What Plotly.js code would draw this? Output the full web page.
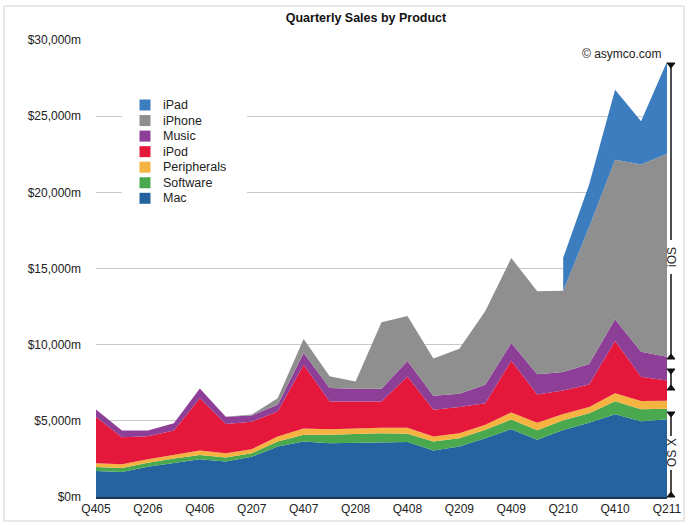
<!DOCTYPE html>
<html><head><meta charset="utf-8">
<script src="https://cdn.plot.ly/plotly-3.0.1.min.js"></script>
<style>html,body{margin:0;padding:0;background:#fff}#chart{width:688px;height:525px}</style>
</head><body><div id="chart"></div>
<script>
// ---- data ($m, calendar quarters) ----
const quarters = ['Q405','Q106','Q206','Q306','Q406','Q107','Q207','Q307','Q407','Q108','Q208','Q308','Q408','Q109','Q209','Q309','Q409','Q110','Q210','Q310','Q410','Q111','Q211'];
const tickLabels = ['Q405','Q206','Q406','Q207','Q407','Q208','Q408','Q209','Q409','Q210','Q410','Q211'];
const yTickValues = [0,5000,10000,15000,20000,25000,30000];
const yTickLabels = ['$0m','$5,000m','$10,000m','$15,000m','$20,000m','$25,000m','$30,000m'];

const mac         = [1700,1640,1990,2250,2480,2330,2640,3310,3640,3530,3570,3600,3617,3050,3310,3860,4454,3760,4399,4870,5428,4976,5104];
const software    = [270,270,260,280,280,270,230,330,440,550,570,580,539,590,550,550,627,620,646,630,863,792,687];
const peripherals = [250,240,230,260,294,270,270,330,420,370,380,360,382,330,330,330,469,486,396,400,518,531,527];
const ipod        = [3038,1780,1500,1570,3427,1930,1800,1640,4180,1820,1750,1730,3371,1750,1710,1420,3391,1861,1545,1484,3425,1600,1325];
const music       = [491,430,390,477,634,464,410,440,770,880,830,830,1011,920,880,1210,1164,1327,1214,1345,1431,1634,1571];
const iphone      = [0,0,0,0,0,0,60,440,920,770,490,4370,2960,2444,2954,4837,5578,5445,5334,9000,10468,12298,13311];
const ipad        = [null,null,null,null,null,null,null,null,null,null,null,null,null,null,null,null,null,null,2166,2792,4608,2836,6046];

const seriesNames  = ['Mac','Software','Peripherals','iPod','Music','iPhone','iPad'];
const seriesColors = ['#2563a0','#4aa84e','#f5b342','#e5173b','#8d3f97','#8f8f8f','#3b7dbf'];
const seriesData   = [mac,software,peripherals,ipod,music,iphone,ipad];

// ---- geometry helpers (pixels -> paper) ----
const L=96, R=667, T=40, B=497;
const px = x => (x-L)/(R-L);
const py = y => (B-y)/(B-T);

// ---- stacked areas ----
let cum = quarters.map(()=>0);
const traces = [];
seriesData.forEach((vals,k)=>{
  const prev = cum.slice();
  const next = cum.map((c,i)=> vals[i]==null ? c : c + vals[i]);
  const idx = quarters.map((q,i)=>i).filter(i=>vals[i]!=null);
  if (k>0 && idx.length < quarters.length) {
    traces.push({type:'scatter',mode:'lines',x:idx.map(i=>quarters[i]),y:idx.map(i=>prev[i]),
      line:{width:0,color:'rgba(0,0,0,0)'},showlegend:false,hoverinfo:'skip'});
  }
  traces.push({type:'scatter',mode:'lines',name:seriesNames[k],
    x:idx.map(i=>quarters[i]),y:idx.map(i=>next[i]),
    fill:k===0?'tozeroy':'tonexty',fillcolor:seriesColors[k],
    line:{width:0,color:seriesColors[k]},showlegend:false,
    customdata:idx.map(i=>vals[i]),hovertemplate:'%{x}: $%{customdata:,}m<extra>'+seriesNames[k]+'</extra>'});
  cum = next;
});

// ---- decorations ----
const shapes = [];
const annotations = [];
const FONT = '"Liberation Sans", Arial, Helvetica, sans-serif';

// legend box
shapes.push({type:'rect',xref:'paper',yref:'paper',x0:px(122),x1:px(247),y0:py(212),y1:py(92),
  fillcolor:'#ffffff',line:{width:0},layer:'above'});
const legendOrder = [6,5,4,3,2,1,0];
legendOrder.forEach((k,r)=>{
  const yc = 105 + r*15.55;
  shapes.push({type:'rect',xref:'paper',yref:'paper',x0:px(139.5),x1:px(150.5),y0:py(yc+5.5),y1:py(yc-5.5),
    fillcolor:seriesColors[k],line:{width:0},layer:'above'});
  annotations.push({xref:'paper',yref:'paper',x:px(161),y:py(yc),xanchor:'left',yanchor:'middle',
    text:seriesNames[k],showarrow:false,font:{family:FONT,size:12.5,color:'#222'}});
});

// copyright
annotations.push({xref:'paper',yref:'paper',x:px(664),y:py(54),xanchor:'right',yanchor:'middle',
  text:'© asymco.com',showarrow:false,font:{family:FONT,size:12,color:'#222'}});

// brackets on the right
const bx = 671;
function vline(y0,y1){shapes.push({type:'line',xref:'paper',yref:'paper',x0:px(bx),x1:px(bx),y0:py(y0),y1:py(y1),line:{color:'#111',width:1.5},layer:'above'});}
function cap(y,dir){ // dir +1: tip points down (toward larger pixel y)
  const a=px(bx-4), b=px(bx+4), c=px(bx), y0=py(y), y1=py(y+dir*5);
  shapes.push({type:'path',xref:'paper',yref:'paper',path:`M${a},${y0} L${b},${y0} L${c},${y1} Z`,
    fillcolor:'#111',line:{color:'#111',width:1},layer:'above'});
}
vline(63,240); vline(274,359); cap(63,1); cap(359,-1);
vline(369,390); cap(369,1); cap(390,-1);
vline(412,436); vline(470,497); cap(412,1); cap(497,-1);
annotations.push({xref:'paper',yref:'paper',x:px(bx+1),y:py(257),xanchor:'center',yanchor:'middle',textangle:-90,text:'iOS',showarrow:false,
  font:{family:FONT,size:12,color:'#222'}});
annotations.push({xref:'paper',yref:'paper',x:px(bx+1),y:py(453),xanchor:'center',yanchor:'middle',textangle:-90,text:'OS X',showarrow:false,
  font:{family:FONT,size:12,color:'#222'}});

// outer frame
shapes.push({type:'rect',xref:'paper',yref:'paper',x0:px(4),x1:px(684),y0:py(521),y1:py(6),
  line:{color:'#d0d0d0',width:1},fillcolor:'rgba(0,0,0,0)',layer:'below'});

const layout = {
  width:688,height:525,
  margin:{l:L,r:688-R,t:T,b:525-B,pad:0},
  paper_bgcolor:'#ffffff',plot_bgcolor:'#ffffff',
  font:{family:FONT,size:12,color:'#222'},
  title:{text:'<b>Quarterly Sales by Product</b>',xref:'container',yref:'container',x:366/688,y:1-18/525,
    xanchor:'center',yanchor:'middle',font:{family:FONT,size:12.5,color:'#111'}},
  showlegend:false,
  xaxis:{type:'category',categoryorder:'array',categoryarray:quarters,range:[0,quarters.length-1],
    tickvals:tickLabels,ticktext:tickLabels,ticks:'',showgrid:false,zeroline:false,
    showline:true,linecolor:'#1d3654',linewidth:2,tickfont:{family:FONT,size:12,color:'#222'},fixedrange:true},
  yaxis:{range:[0,30000],tickmode:'array',tickvals:yTickValues,ticktext:yTickLabels,
    ticks:'',ticklabelstandoff:14,showgrid:true,gridcolor:'#c8c8c8',gridwidth:1,zeroline:false,showline:false,
    tickfont:{family:FONT,size:12,color:'#222'},fixedrange:true},
  shapes:shapes,annotations:annotations,hovermode:'closest'
};
Plotly.newPlot('chart',traces,layout,{displayModeBar:false});
</script>
</body></html>
